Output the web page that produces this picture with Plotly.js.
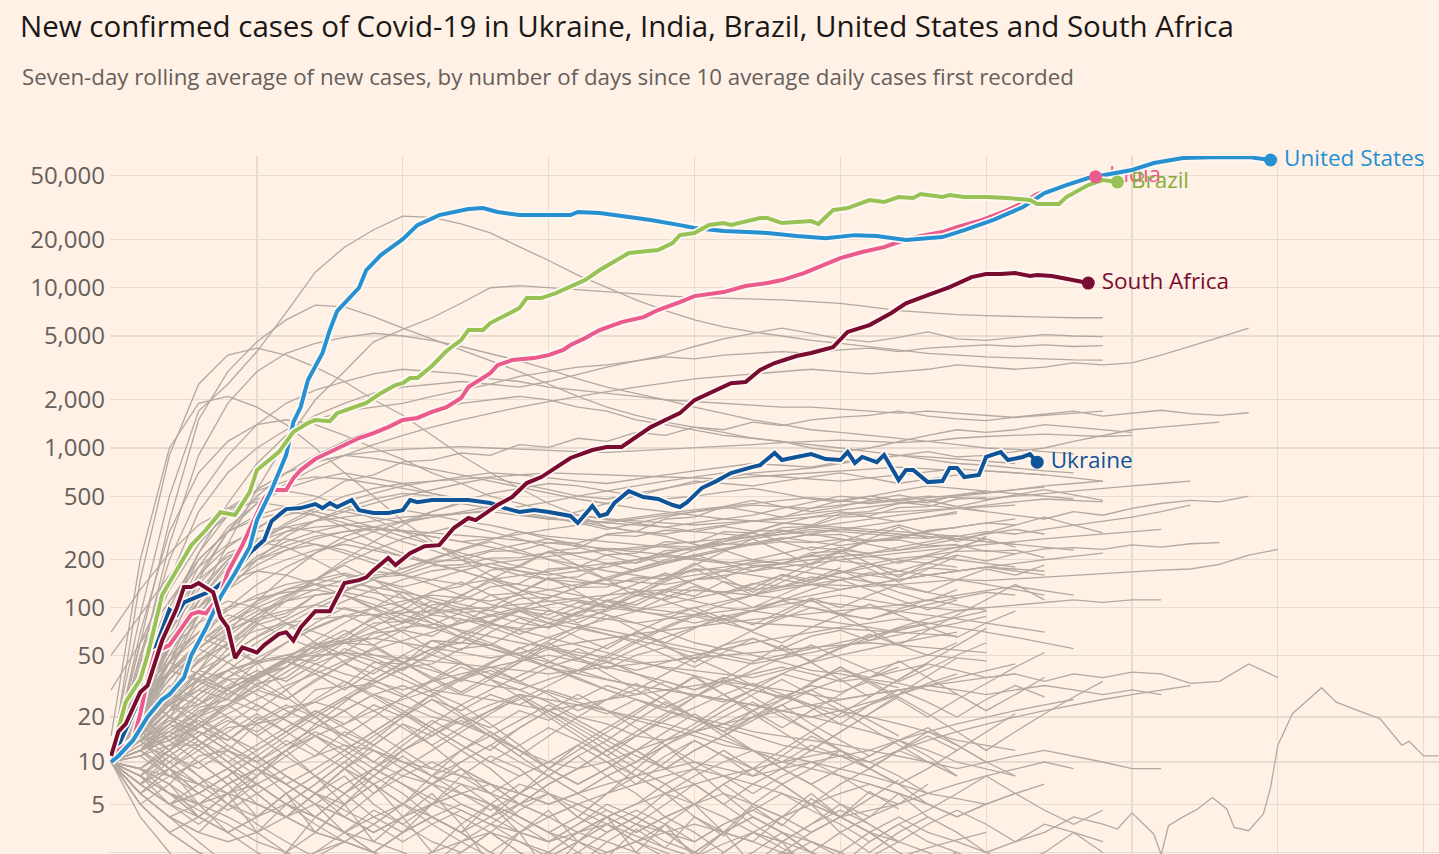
<!DOCTYPE html>
<html>
<head>
<meta charset="utf-8">
<script src="https://cdn.plot.ly/plotly-3.0.1.min.js"></script>
<style>
html,body{margin:0;padding:0;background:#FFF1E5;}
#chart{width:1439px;height:854px;}
</style>
</head>
<body>
<div id="chart"></div>
<script>
// ---------------- DATA (7-day average of new cases, by days since 10 avg daily cases) ----------------
const usDays = [0,1,3,5,7,8,10,11,13,15,17,19,20,22,24,25,26,27,29,30,31,34,35,37,40,42,45,49,51,53,56,63,64,67,70,72,74,78,80,84,90,94,98,102,105,109,114,117,121,125,128,131,134,137,140,143,147,151,156,159];
const usCases = [10,11,14,20,26,28,36,50,74,117,165,240,354,546,903,1450,1800,2660,3920,5450,7160,10000,12900,16000,20100,24600,28400,31000,31400,29700,28400,28400,29700,29300,28000,27200,26500,24600,23600,22600,21950,21000,20400,21300,21000,19850,20700,22900,26500,31800,39000,43700,48400,51300,54300,60000,64500,65300,65300,62650];

const indiaDays = [0,1,3,4,5,6,8,9,11,12,13,15,16,18,20,21,22,24,25,26,28,30,32,34,36,38,40,42,44,46,48,49,52,53,55,58,60,62,63,65,67,70,73,75,78,80,84,87,90,92,95,97,100,103,106,108,111,114,116,119,122,125,127,130,133,135];
const indiaCases = [10,12,14,21,35,52,58,67,91,94,92,120,167,247,381,487,546,546,648,728,853,943,1028,1154,1240,1350,1495,1540,1680,1800,2050,2400,2930,3290,3540,3640,3800,4090,4390,4850,5450,6100,6560,7260,8140,8870,9400,10250,10700,11170,12350,13460,15320,16700,17920,19290,21020,22260,23920,26080,29270,33780,38450,42500,46350,49270];

const brazilDays = [0,1,2,4,5,7,9,11,13,15,17,19,20,23,25,27,28,30,31,33,35,37,39,40,41,42,44,46,48,49,51,52,54,56,57,59,61,63,65,67,69,71,75,77,78,80,82,84,85,87,89,90,92,94,96,97,99,101,104,106,108,110,111,114,115,117,120,123,126,127,130,131,134,136,138];
const brazilCases = [11,17,25,35,50,120,172,247,307,397,381,530,728,943,1260,1430,1495,1470,1650,1770,1910,2200,2470,2540,2730,2730,3250,4030,4720,5450,5450,6020,6760,7470,8620,8620,9270,10100,11170,12900,14470,16470,17190,18980,21330,21960,24620,25320,24620,25700,27200,27200,25320,25700,26060,24970,30540,31440,35260,34260,36830,36300,38430,36830,37890,36830,36830,36300,35260,33290,33290,36830,43740,47000,45680];

const saDays = [0,1,2,4,5,7,9,10,11,12,14,15,16,17,18,20,21,23,24,25,26,28,30,32,34,35,36,38,39,41,43,45,47,49,50,53,55,57,59,62,63,66,68,70,72,74,76,78,80,83,85,87,89,91,94,96,99,101,104,107,109,112,115,118,120,122,124,126,127,129,131,134];
const saCases = [11,16,18,29,32,62,99,135,135,143,125,87,75,48,56,52,58,68,70,62,75,95,95,143,149,155,172,205,185,220,243,247,316,365,354,440,494,604,658,815,866,971,1015,1015,1172,1350,1495,1650,1990,2300,2540,2580,3070,3390,3750,3920,4260,5300,5850,6960,8000,9000,10100,11660,12170,12170,12350,11830,12000,11830,11330,10700];

const ukraineDays = [0,1,3,5,6,8,9,10,12,14,16,18,19,21,22,24,26,28,29,30,31,33,34,36,38,40,41,42,44,49,52,54,56,58,60,63,64,66,67,68,69,71,73,75,77,78,79,81,83,85,88,89,91,92,94,96,98,100,101,102,103,105,106,108,109,110,112,114,115,116,117,119,120,122,123,125,126,127];
const ukraineCases = [10,13,21,33,54,97,90,108,118,129,154,190,220,266,349,415,421,446,421,453,428,473,409,392,392,409,473,459,473,473,453,421,398,409,398,376,340,434,376,387,453,538,494,480,440,428,459,562,621,697,762,782,930,841,879,916,853,841,943,806,879,815,903,630,728,728,612,621,750,750,658,678,879,943,841,879,916,815];

// other countries (grey), values every 4 days from day 0
const grayDays = [0,4,8,12,16,20,24,28,32,36,40,44,48,52,56,60,64,68,72,76,80,84,88,92,96,100,104,108,112,116,120,124,128,132,136,140,144,148,152,156,160,164,168,172,176,180,184];
const otherCountries = [
 [12,90,500,1700,2500,4000,7000,12500,17900,23000,28000,27500,25000,22000,18000,14800,12000,10000,8400,7200,6300,5700,5300,5000,4700,4500,4300,4100,3900,3800,3700,3650,3600,3550,3540],
 [11,60,350,1500,3000,4600,6300,7800,7600,6600,5600,4800,4100,3500,3000,2500,2100,1800,1600,1450,1350,1250,1150,1100,1050,1000,950,900,880,850,820,800],
 [10,45,250,900,1900,3000,3900,4500,4900,5200,5000,4700,4300,3900,3500,3100,2700,2400,2200,2000,1800,1650,1500,1400,1300,1250,1200,1150,1100,1050,1000,980,950,920],
 [10,20,45,110,250,550,1100,2000,3000,4600,5500,6500,8000,10000,10300,10000,9700,9400,9100,8900,8700,8600,8500,8400,8200,8000,7600,7200,7000,6800,6700,6600,6550,6500,6500],
 [10,25,70,160,300,450,600,750,900,1050,1200,1350,1500,1650,1800,1950,2100,2250,2400,2550,2700,2800,2900,3000,3100,3000,2900,3000,3100,3300,3200,3100,3200,3400,3300,3400,3800,4300,4900,5600],
 [10,40,150,400,700,1000,1300,1500,1700,1800,1900,2100,2300,2500,2800,3000,3200,3300,3500,3700,3600,3800,3900,4000,3900,4100,4200,4000,4200,4300,4400,4300,4400,4300,4350],
 [10,30,90,220,450,800,1200,1600,1900,2200,2400,2500,2600,2500,2400,2600,2900,3200,3500,3800,4300,4800,5200,5600,5200,4800,4600,4900,5300,4800,4700,4900,5100,5000,4950],
 [10,50,200,500,900,1400,1900,2300,2600,2900,3100,3000,2900,2700,2600,2400,2300,2200,2100,2000,1950,1900,1850,1800,1800,1750,1700,1650,1700,1650,1600,1550,1600,1650,1700],
 [10,20,60,150,300,500,700,900,1100,1300,1500,1700,1900,2000,2100,2000,1800,1700,1500,1400,1300,1200,1150,1100,1000,950,1000,1100,1200,1300,1250,1300,1400,1350,1300,1250],
 [10,15,40,90,160,230,300,350,400,450,500,550,600,650,600,550,500,480,520,560,600,650,700,720,750,800,850,900,950,880,900,950,1000,1100,1200,1300,1350,1400,1450],
 [10,25,60,120,200,310,420,480,620,680,820,840,930,900,1050,1010,1150,1100,1250,1200,1350,1300,1450,1380,1500,1560,1600,1700,1580,1520,1480,1560,1620,1700,1580,1650,1720,1640,1600,1660],
 [10,150,900,2500,3800,4200,3800,3200,2600,2000,1600,1200,900,700,560,450,380,320,300,280,250,230,200,190,180,170,160,150,160,170,180,170,160],
 [15,200,1000,1900,2100,1800,1400,1000,700,500,350,260,200,160,130,110,100,90,80,70,60,55,50,45,40,38,35,33,30,28],
 [10,70,300,700,1100,1400,1500,1400,1200,1000,850,700,600,500,450,400,380,360,340,320,300,290,280,300,320,310,300,290,280,270,260,250],
 [10,20,50,100,170,250,330,400,460,520,580,620,660,700,680,650,620,600,640,680,720,760,800,780,760,820,860,900,850,800,780,750,720,700],
 [10,15,30,60,100,140,180,220,260,300,350,400,450,420,390,360,400,450,500,560,620,600,580,620,660,700,650,600,640,680,720,700,680,650,620],
 [10,25,80,180,320,450,560,640,700,650,600,520,470,430,400,380,360,340,330,320,340,360,380,420,460,500,480,460,440,420,400],
 [10,12,20,35,55,80,110,150,200,260,330,400,460,520,560,600,580,540,500,480,500,530,560,520,480,460,500,540,580,560,540,520,500,480],
 [10,18,40,80,130,200,280,350,420,480,520,500,470,440,410,380,350,320,300,290,310,330,350,370,390,410,430,450,470,500,520,550,580,600,620],
 [10,12,14,20,24,36,42,58,62,80,82,104,110,135,142,175,180,215,220,260,255,300,295,340,330,390,400,450,470,430,400,380,360,400,380,420,450,470,460,500],
 [10,22,55,110,190,270,320,350,370,390,410,380,350,330,300,280,270,260,250,240,230,250,270,290,310,300,290,280,300,320,340,330],
 [10,14,22,40,70,110,160,220,280,320,350,370,390,410,430,460,500,540,580,620,660,700,680,660,640,620,650,680,710,740,720,700,680],
 [10,30,90,200,300,360,400,380,340,300,260,230,200,180,170,160,170,180,200,220,240,260,280,300,320,340,360,380,400,420,440,460,480,470,460],
 [10,12,17,21,31,36,48,52,63,64,75,78,93,96,114,116,134,135,155,152,175,172,195,190,214,196,188,204,212,226,228,218,234,238,232,248,240,252,256],
 [10,20,40,60,80,100,120,140,160,150,130,110,100,90,80,75,85,95,110,130,150,170,160,150,140,130,140,150,160,170,180,175,170],
 [10,15,25,35,50,65,80,70,60,50,45,40,35,32,30,35,40,45,55,65,75,85,95,110,100,90,85,95,105,115,125,120],
 [10,8,12,20,30,45,60,80,100,90,70,55,45,35,30,25,20,18,15,14,16,18,22,26,30,35,40,45,50,48,46],
 [10,25,50,70,60,45,30,20,14,10,8,7,6,5,4,3,2,1.5,1,1.5,2,3,4,3,2,1,0.5,0],
 [10,18,30,40,35,28,22,18,15,12,10,9,8,7,6,5,6,8,10,14,18,24,30,38,46,55,65,75,85,95,100],
 [10,12,18,28,40,55,72,90,110,130,150,170,180,190,200,210,220,230,240,250,260,270,280,290,300,310,300,290,280,270,260,250,240,230],
 [10,30,60,90,110,100,80,60,45,35,28,22,18,15,12,10,9,10,12,14,16,18,20,22,24,26,28,30,32,34,36,38],
 [10,14,22,24,35,36,47,46,60,58,72,66,84,80,96,90,108,100,120,112,130,124,142,136,156,148,166,160,178,172],
 [10,6,4,3,5,8,12,18,25,35,45,55,60,58,50,42,35,30,26,22,20,18,16,15,14,13,12,14,16,18,20,22,24,26],
 [10,20,35,55,75,95,110,120,125,115,100,85,70,60,50,42,36,30,26,22,19,17,15,13,12,11,10,12,14,16,18,20,22,24,26,28,30,32],
 [10,9,7,11,12,18,20,30,32,45,44,62,60,78,74,96,88,112,104,128,118,146,132,162,150,178],
 [10,40,80,120,150,170,160,140,120,100,85,75,65,55,50,45,40,35,32,30,28,26,24,22,20,18,16,14,12,10,9,8],
 [10,16,24,30,26,22,30,40,55,48,40,52,66,58,50,62,76,68,60,74,88,80,72,86,100,92,84,98,112,104,96],
 [10,7,5,4,3,4,5,7,10,14,20,28,36,45,55,65,75,85,95,105,115,125,120,115,110,105,100,95,90,85,80,75,70],
 [10,22,45,70,90,80,65,55,60,70,80,90,85,75,65,55,50,45,40,45,50,55,60,65,70,75,80,85,80,75,70,65,60,55],
 [10,12,15,12,9,7,5,4,3,2.5,2,1.5,2,3,2,1,1.5,2.5,3.5,3,2,1.5,1,2,3,4,3,2],
 [10,8,6,5,6,7,9,11,13,12,10,8,7,6,5,4,5,6,7,8,9,8,7,6,5,4,4.5,5,6,7,8,9,10,9],
 [10,35,70,140,220,260,240,200,160,130,100,80,65,55,48,42,38,35,32,30,28,26,24,22,20,22,25,28,32,36,40,44],
 [10,14,18,24,30,38,46,40,34,28,24,20,18,22,26,32,40,50,62,76,90,105,120,135,150,165,180,195,210,200,190,180],
 [10,5,3,2,1.5,1,2,3,5,8,12,16,20,24,28,26,24,22,20,18,16,14,12,10,9,8,7,6,5,4,5,6,7],
 [10,28,55,80,100,115,125,130,120,105,90,80,72,66,60,56,52,48,45,42,40,38,36,40,45,50,55,60,65,70],
 [10,12,14,17,21,26,32,38,46,54,62,70,80,90,100,95,90,85,80,85,90,95,100,110,120,130,140,150,160,170,180,190,200,210,220],
 [10,9,8,7,6,5,4,3,2.5,2,1.5,1,0.5,1,1.5,2,3,4,5,6,7,8,9,10,11,12],
 [10,18,26,34,40,45,48,50,52,50,48,46,44,42,40,38,40,42,44,46,48,50,52,54,56,58,60,58,56,54,52],
 [30,60,110,180,250,300,320,300,270,240,210,190,170,150,140,130,120,110,100,95,90,85,80,78,76,74,72,70,68,66],
 [50,90,160,260,380,480,540,500,430,360,300,250,210,180,160,150,145,140,150,160,170,180,190,200,210,220,210,200,190,180],
 [70,130,220,330,420,460,430,380,320,260,220,190,170,150,130,120,110,100,95,90,100,110,120,130,140,150,160,170,160,150,140,130,120],
 [10,13,11,15,19,16,21,25,22,28,32,27,35,40,34,42,48,41,50,56,48,58,64,55,66,72,62,74,80],
 [10,8,11,9,12,10,14,11,16,13,18,15,20,17,22,19,24,21,26,23,28,25,30,27,32,29,34,31],
 [10,20,28,24,32,40,34,44,52,46,38,30,36,42,34,28,22,26,30,24,20,16,20,24,18,14,11,14,17,13,10,8],
 [10,6,9,5,7,4,6,3,5,2.5,4,2,3.5,1.5,3,1.2,2.5,1.8,3.2,2.2,4,2.8,4.8,3.4,5.5,4,6.2,4.6],
 [10,17,24,40,50,78,88,120,126,160,166,196,198,226,228,256,254,286,280,306,300,324,302,306,284,288,262,266,244,248,226,230,206],
 [10,24,40,34,28,36,46,38,30,40,50,42,34,44,56,46,38,48,60,50,42,52,64,54,46,56,68,58,50,60],
 [10,9,12,16,14,19,24,20,26,32,27,34,42,36,45,55,47,58,70,60,74,90,78,95,115,100,120,140,125,150,175,160,185],
 [10,4,2,1,0.5,1,2,4,6,9,7,5,8,11,9,6,4,6,8,6,4,3,5,7,5,3,2,3,4],
 [10,30,45,38,30,24,19,15,12,9,7,5.5,4.5,3.5,3,2.5,3,3.5,2.8,2.2,1.8,2.4,3,2.5,2,1.6,1.3,1],
 [10,14,20,17,24,30,26,35,44,38,50,62,54,70,86,74,92,110,96,116,136,120,140,160,144,166,188,170,192,214,196,218],
 [10,22,38,56,72,86,96,104,98,90,82,74,80,88,96,104,112,104,96,88,80,88,96,104,112,120,112,104,112,120,128,136,128,120],
 [10,7,10,14,11,8,12,16,13,10,14,19,15,12,17,22,18,14,19,25,20,16,22,28,23,18,24,30,25,20,26,32,27],
 [10,15,30,50,70,90,110,130,150,170,160,150,140,150,160,170,180,190,200,210,200,190,200,220,240,230,220,240,260,280,300,290,310,330,350,370,400,440],
 [10,20,45,90,150,210,260,300,330,350,370,380,390,400,380,360,350,340,360,380,400,420,440,430,420,440,460,480,500,490,480,500,520,540,560,580,600,620],
 [10,35,100,220,380,550,700,820,900,950,980,1000,1020,1000,980,960,950,940,960,980,1000,1020,1050,1080,1100,1120,1100,1080,1100,1150,1180,1200,1220,1200,1180,1200],
 [10,12,18,26,36,48,60,74,88,100,110,120,115,110,120,130,140,150,145,140,150,160,170,180,190,200,210,220,230,240,250,260,270,280,290,300,310],
 [10,14,20,28,36,44,50,56,60,64,60,56,52,48,52,56,60,64,68,72,76,80,84,88,92,96,100,104,100,96,100,104,108,112,108,112,112],
 [10,8,6,5,7,9,12,15,18,22,26,30,28,26,24,22,24,26,28,30,32,34,32,30,28,26,28,30,32,30,28,30,32,30,28,30,28],
 [10,6,4,3,2.5,3,4,5,4,3,4,5,6,7,6,5,6,7,8,9,10,9,8,9,10,11,12,11,10,9,10,11,12,11,10,9,9],
 [10,5,3,2,1.5,1.2,1.5,2,2.5,2,1.5,2,2.5,3,2.5,2,1.5,2,2.5,2,1.5,1.2,1.5,2,1.8,1.5,1.3,1.5,1.8,1.6,1.4,1.2,1.3,1.4,1.3],
 [10,16,24,32,40,46,50,44,38,34,30,34,38,42,46,50,46,42,38,34,30,34,38,42,38,34,36,40,44,40,36,38,34,38,36,39,38,33,34,44,36],
 [10,18,30,45,60,72,80,85,88,90,92,95,98,100,105,110,115,120,125,130,128,126,130,135,140,138,136,140,145,150,148,152,155,160,165,168,172,175,187,214,232],
 [10,5,3,4,6,9,7,5,3,2,3,5,4,3,2,1.5,2,3,4,3,2,1.5,2,3,2.5,2,1.5,1,1.5,2],
 [10,7,9,6,8,11,8,6,9,12,9,7,10,13,10,8,11,14,11,9,12,15,12,10,13,11,9,12,10,8],
 [10,14,10,7,5,4,6,8,6,4,3,4,5,4,3,2.5,3.5,4.5,3.5,2.5,2,3,4,3,2,1.5,2.5,3.5,2.5,2,1.5,1],
 [10,18,25,20,15,11,8,6,5,7,9,7,5,4,5,6,5,4,3,4,5,4,3,2.5,3.5,4.5,3.5,2.5],
 [10,12,16,13,18,24,19,15,12,16,21,17,13,10,13,17,14,11,8,11,14,11,9,7,9,12,10,8,6],
 [10,20,32,26,20,15,20,26,34,27,21,16,12,15,19,24,19,15,12,9,12,15,19,24,30,24,19,15],
 [10,6,8,10,13,10,7,5,7,9,12,15,19,15,11,8,6,8,10,13,16,20,25,20,16,12,9,7,5],
 [10,25,45,65,55,45,60,75,90,75,60,50,65,80,95,80,65,55,70,85,100,85,70,60,75,90,105,90,75,65,80,95],
 [10,15,22,30,40,32,26,34,44,56,45,36,29,37,47,60,48,38,30,38,48,40,32,26,33,42,34,27],
 [10,28,20,14,10,13,17,22,17,13,10,8,10,13,17,22,28,22,17,13,10,8,6,8,10,8,6,5],
 [10,9,13,18,24,32,42,54,68,85,105,125,145,120,100,85,100,120,140,165,140,120,100,120,145,170,145,125,110,130],
 [10,30,55,90,130,170,200,230,250,230,210,190,210,230,250,270,250,230,210,190,210,230,250,270,290,270,250,230,250,270,290,310,290],
 [10,16,26,40,60,85,115,150,190,230,270,300,330,300,270,240,210,190,170,190,210,230,250,270,290,310,330,350,370,390],
 [10,12,9,7,9,12,16,21,27,35,44,55,68,82,98,115,135,155,175,195,215,235,255,275,260,245,260,280,300,320,340,360],
 [10,22,40,35,30,38,48,60,50,42,35,29,24,30,37,45,55,46,38,32,27,33,40,48,58,48,40,34,41,50,60],
 [10,8,12,17,23,30,39,50,62,76,92,110,95,80,68,80,94,110,128,110,95,82,96,112,130,150,130,112,97,112],
 [10,45,90,150,210,250,270,250,220,190,160,140,120,105,95,85,78,72,66,60,55,50,46,50,55,60,66,72,79,87,95],
 [10,35,65,100,140,185,230,270,300,320,300,280,260,240,220,200,185,170,160,150,160,170,180,190,200,210,220,230,240,250],
 [10,14,16,23,26,38,42,58,65,88,96,126,136,172,180,226,236,290,300,360,370,430,400,370,420,470,500,470,455,510,540],
 [10,6,4,2.5,1.5,1,0.5,0,0],
 [10,8,6,4.5,3.5,2.5,2,1.5,1,0.5,1,1.5,2.5,3.5,5,7,9,12,15,19,23,28,33,28,24,20,24,28,33,38],
 [10,11,8,10,7,9,6,8,5,7,4,6,3.5,5,3,4.5,2.5,4,2,3.5,1.8,3,1.5,2.5,1.2,2],
 [10,20,38,60,84,110,130,140,135,125,115,100,90,80,72,65,58,52,46,41,37,33,30,27,24,22,20,18,16,14,13,12],
 [10,15,24,36,50,66,84,104,126,150,176,204,234,266,300,270,240,215,190,215,240,270,300,335,370,400,370,345,370,400],
 [10,11,13,13,17,18,23,25,31,33,42,44,55,58,73,76,94,98,120,124,150,154,184,188,222,226,262,270,306,318],
 [10,40,110,200,300,380,430,400,360,320,280,250,220,200,180,165,150,140,130,120,110,100,95,90,85,80,75,70],
 [10,60,150,280,420,540,620,660,640,600,560,520,480,450,420,400,380,360,350,340,330,340,350,360,370,380,390,400,410,420,430,440],
 [10,25,60,110,180,260,340,420,500,560,600,620,640,660,680,700,690,680,670,660,650,640,660,680,700,720,740,760,740,720],
 [10,50,130,250,400,550,700,820,900,860,800,740,680,620,570,520,480,450,420,400,380,360,350,340,330,320,310,300,290,280,270],
 [10,9,7,5,4,3,2,1.5,1,0.8,0.5,0.3,0,0],
 [10,14,19,16,12,9,7,5,4,3,4,5,6,5,4,3,2.5,2,2.5,3,3.5,3,2.5,2,1.5,1.2,1.5,1.8,2.2,2.6,3],
 [10,16,12,18,14,20,16,22,18,24,20,26,22,28,24,30,26,32,28,34,30,36,32,38,34,40,36,42],
 [10,20,14,10,7,9,12,8,6,8,11,8,6,4.5,6,8,6,4.5,3.5,5,7,5,3.5,2.5,3.5,5,3.5,2.5],
 [10,30,70,130,200,260,300,320,330,320,300,280,260,270,290,310,330,350,370,390,410,430,450,470,490,470,450,470,490,510,530,550,570],
 [10,12,15,19,15,12,16,21,27,22,17,13,17,22,28,22,17,13,10,13,17,22,28,35,28,22,17,13,10,8],
 [10,24,46,70,96,120,140,150,145,135,125,115,105,96,88,80,74,68,62,57,52,48,44,48,52,57,62,68,74,80,88],
 [10,19,28,47,58,83,92,120,128,155,160,183,186,205,206,222,220,236,232,244,240,252,248,260,256,268,264,276,272,284],
 [10,7,5,6,8,11,15,20,26,33,41,50,44,38,33,29,25,22,19,17,15,13,12,11,10,9,8,7,6,5.5,5],
 [10,26,56,100,150,200,245,280,300,310,305,295,285,275,265,255,245,235,225,215,205,195,185,175,165,155,145,135,125,115],
 [10,14,15,22,24,33,36,49,52,69,72,92,96,120,124,152,156,188,192,228,232,270,276,318,324,370,376,424,430,480,490],
 [10,6,4,5,3,4,6,4,3,2,3,4,3,2,3,4,5,4,3,4,5,6,5,4,5,6,7,6,5,4,5,6],
 [10,8,5,7,9,6,4,6,8,5,3.5,5,7,5,3.5,2.5,3.5,5,4,3,2.5,3.5,4.5,3.5,2.5,2,3,4,3,2.5,2,2.5,3.5,3,2.5],
 [10,12,9,6,8,11,8,6,4,6,8,10,8,6,8,10,13,10,8,6,8,10,12,9,7,9,11,14,11,8],
 [10,15,11,8,6,5,4,3,2.5,2,3,4,3,2,1.5,2,3,2.5,2,1.5,1.2,2,3,2.2,1.6,1.2,1.8,2.5,2,1.5,1.2,1,1.4,1.8,1.5],
 [10,20,14,18,24,18,13,17,22,16,12,9,12,16,12,9,7,9,12,9,7,5,7,9,7,5,4,5,7],
 [10,7,11,15,20,15,11,8,11,15,20,26,20,15,11,15,20,26,33,26,20,15,20,26,33,42,33,26,20,26,33,42,52],
 [10,5,7,4,6,3,5,7,10,7,5,8,12,9,6,9,13,10,7,10,14,11,8,11,15,12,9,12,16,13,10],
 [10,13,18,14,10,7,5,4,6,9,13,18,24,18,13,9,7,9,12,16,21,16,12,9,12,16,21,27,21,16,12,16,21,27,34],
 [10,9,6,4,3,2,1.5,2,3,4.5,3.5,2.5,2,3,4.5,6,4.5,3.5,2.5,3.5,5,7,5,4,3,4,5.5,7.5],
 [10,16,24,18,13,10,13,17,22,28,22,17,13,10,8,10,13,17,22,28,36,28,22,17,22,28,36,46,36,28,22,28,36],
 [10,30,20,14,10,7,5,4,3,4,5,7,9,7,5,4,3,4,5,7,9,12,9,7,5,7,9,12,15,12],
 [10,6,9,13,9,6,4,6,9,13,18,13,9,6,4,3,4,6,9,13,9,6,4,3,2,3,4,6,4,3,2,1.5,2,3,2],
 [10,11,15,20,27,35,27,20,15,20,27,35,45,35,27,20,15,11,15,20,27,35,45,58,45,35,27,35,45,58,74],
 [10,8,6,4,6,8,11,15,11,8,6,4,3,4,6,8,11,8,6,4,3,2,3,4,6,4,3,2,1.5,1,0.5,0],
 [10,14,9,12,16,21,16,12,9,6,9,12,16,21,27,21,16,12,16,21,27,35,27,21,16,21,27,35,44],
 [10,18,12,8,5,3.5,2.5,1.8,2.5,3.5,5,3.5,2.5,1.8,1.2,1.8,2.5,3.5,2.5,1.8,1.2,0.8,1.2,1.8,2.5,1.8,1.2,0.8,0.5,0],
 [10,25,40,55,45,35,45,58,72,58,45,35,28,35,45,58,72,90,72,58,45,58,72,90,112,90,72,58,72,90,112,140,112],
 [10,9,12,16,12,9,7,9,12,16,21,28,21,16,12,9,12,16,21,28,37,28,21,16,12,16,21,28,37,48],
 [10,7,5,3.5,5,7,5,3.5,2.5,3.5,5,7,9,7,5,7,9,12,9,7,5,7,9,12,16,12,9,7,9,12,16,21],
 [10,12,8,6,4.5,6,8,6,4.5,3.5,2.5,3.5,4.5,3.5,2.5,1.8,2.5,3.5,4.5,3.5,2.5,3.5,4.5,6,4.5,3.5,2.5,3.5,4.5,6,8,6,4.5,3.5,4.5],
 [10,20,35,55,80,105,130,150,165,150,135,150,170,190,170,150,135,150,170,190,215,190,170,190,215,240,215,190,215,240,270,240],
 [10,15,22,32,45,60,78,98,120,98,80,98,120,145,120,98,80,98,120,145,175,145,120,145,175,210,175,145,175,210],
 [10,30,65,110,160,200,230,250,230,200,175,200,230,260,230,200,175,150,175,200,230,260,295,260,230,260,295,330,295,260,295,330,370,330,295],
 [10,12,16,21,28,37,48,62,80,100,125,100,80,100,125,155,125,100,125,155,190,155,125,155,190,230,190,155,190,230,280],
 [10,40,90,160,240,320,380,420,400,370,340,370,400,430,400,370,340,310,340,370,400,430,470,430,400,430,470,510,470,430,470,510,550,510,470],
 [10,18,30,46,66,90,118,150,185,150,118,90,118,150,185,225,185,150,118,150,185,225,270,225,185,225,270,320,270]
];
// one early-starting country running to the right edge
const longDays = [0,4,8,12,16,20,24,28,32,36,40,44,48,52,56,60,64,68,72,76,80,84,88,92,96,100,104,108,112,116,120,124,128,132,136,138,140,143,144,145,147,149,151,153,154,156,158,159,160,162,166,168,171,174,177,178,180,182];
const longCases = [10,7,5,6,8,5,4,6,9,7,5,4,3,5,7,6,4,3,4,6,5,3,2.5,4,5,4,3,2.5,3.5,4.5,3.5,2.5,3,4,3.5,3.2,4.3,2.9,1.9,3.4,4.0,4.6,5.6,4.6,3.3,3.1,4.2,6.6,13,21,31,25,22,19.5,13,13.8,11,11];

const yTickValues = [2,5,10,20,50,100,200,500,1000,2000,5000,10000,20000,50000];
const xGridDays = [20,40,60,80,100,120,140,160,180];

// ---------------- STYLE ----------------
const BG = '#FFF1E5';
const GRID = '#E8DCD1';
const GREY = '#B3A9A1';
const FONT = '"Open Sans", Lato, sans-serif';
const highlights = [
  {label:'Ukraine', days: ukraineDays, cases: ukraineCases, color:'#0F5499', text:'#0F5499'},
  {label:'India', days: indiaDays, cases: indiaCases, color:'#EB5A8C', text:'#EB5A8C'},
  {label:'United States', days: usDays, cases: usCases, color:'#2690D1', text:'#2690D1'},
  {label:'Brazil', days: brazilDays, cases: brazilCases, color:'#98C255', text:'#86AE3C'},
  {label:'South Africa', days: saDays, cases: saCases, color:'#7A0B30', text:'#7A0B30'}
];
const shift = a => a.map(v => v + 1); // axis plots (cases + 1) on a log scale

const traces = [];
otherCountries.forEach(vals => {
  traces.push({type:'scatter', mode:'lines', x: grayDays.slice(0, vals.length), y: shift(vals),
    line:{color: GREY, width:1.3}, hoverinfo:'skip'});
});
traces.push({type:'scatter', mode:'lines', x: longDays, y: shift(longCases),
  line:{color: GREY, width:1.3}, hoverinfo:'skip'});

function labelTrace(h) {
  const n = h.days.length - 1;
  return {type:'scatter', mode:'markers+text', x:[h.days[n]], y:[h.cases[n] + 1], cliponaxis:false,
    marker:{size:20, color:'rgba(0,0,0,0)'}, text:[h.label], textposition:'middle right',
    textfont:{family: FONT, size:22.5, color: h.text}, hoverinfo:'skip'};
}
// India's label sits underneath the other lines
traces.push(labelTrace(highlights[1]));

highlights.forEach(h => {
  traces.push({type:'scatter', mode:'lines', x: h.days, y: shift(h.cases),
    line:{color:'#FFF8F2', width:7.5}, hoverinfo:'skip'});
  traces.push({type:'scatter', mode:'lines', x: h.days, y: shift(h.cases),
    line:{color: h.color, width:4}, hoverinfo:'skip'});
});
highlights.forEach(h => {
  const n = h.days.length - 1;
  traces.push({type:'scatter', mode:'markers', x:[h.days[n]], y:[h.cases[n] + 1], cliponaxis:false,
    marker:{size:13, color: h.color}, hoverinfo:'skip'});
});
highlights.forEach((h, i) => { if (i !== 1) traces.push(labelTrace(h)); });

const layout = {
  width:1439, height:854,
  paper_bgcolor: BG, plot_bgcolor: BG,
  margin:{l:110, r:0, t:156, b:0},
  showlegend:false,
  font:{family: FONT, color:'#66605C'},
  title:{text:'New confirmed cases of Covid-19 in Ukraine, India, Brazil, United States and South Africa',
    x:20/1439, xanchor:'left', xref:'container', y:1-27/854, yanchor:'middle', yref:'container',
    font:{family: FONT, size:29.5, color:'#1A1817'}},
  annotations:[{text:'Seven-day rolling average of new cases, by number of days since 10 average daily cases first recorded',
    xref:'paper', yref:'paper', x:(20-110)/1329, y:(854-76)/698, xanchor:'left', yanchor:'middle',
    showarrow:false, font:{family: FONT, size:22.3, color:'#66605C'}}],
  xaxis:{range:[-0.15, 182.1], tickvals: xGridDays, showticklabels:false, ticks:'',
    showgrid:true, gridcolor: GRID, gridwidth:1.3, zeroline:false, showline:false, fixedrange:true},
  yaxis:{type:'log', range:[Math.log10(2.934), Math.log10(66380)],
    tickvals: shift(yTickValues), ticktext: yTickValues.map(v => v.toLocaleString('en-US')),
    ticks:'', ticklabelstandoff:4, tickfont:{family: FONT, size:24, color:'#66605C'},
    showgrid:true, gridcolor: GRID, gridwidth:1.3, zeroline:false, showline:false, fixedrange:true}
};

Plotly.newPlot('chart', traces, layout, {displayModeBar:false, staticPlot:true});
</script>
</body>
</html>
